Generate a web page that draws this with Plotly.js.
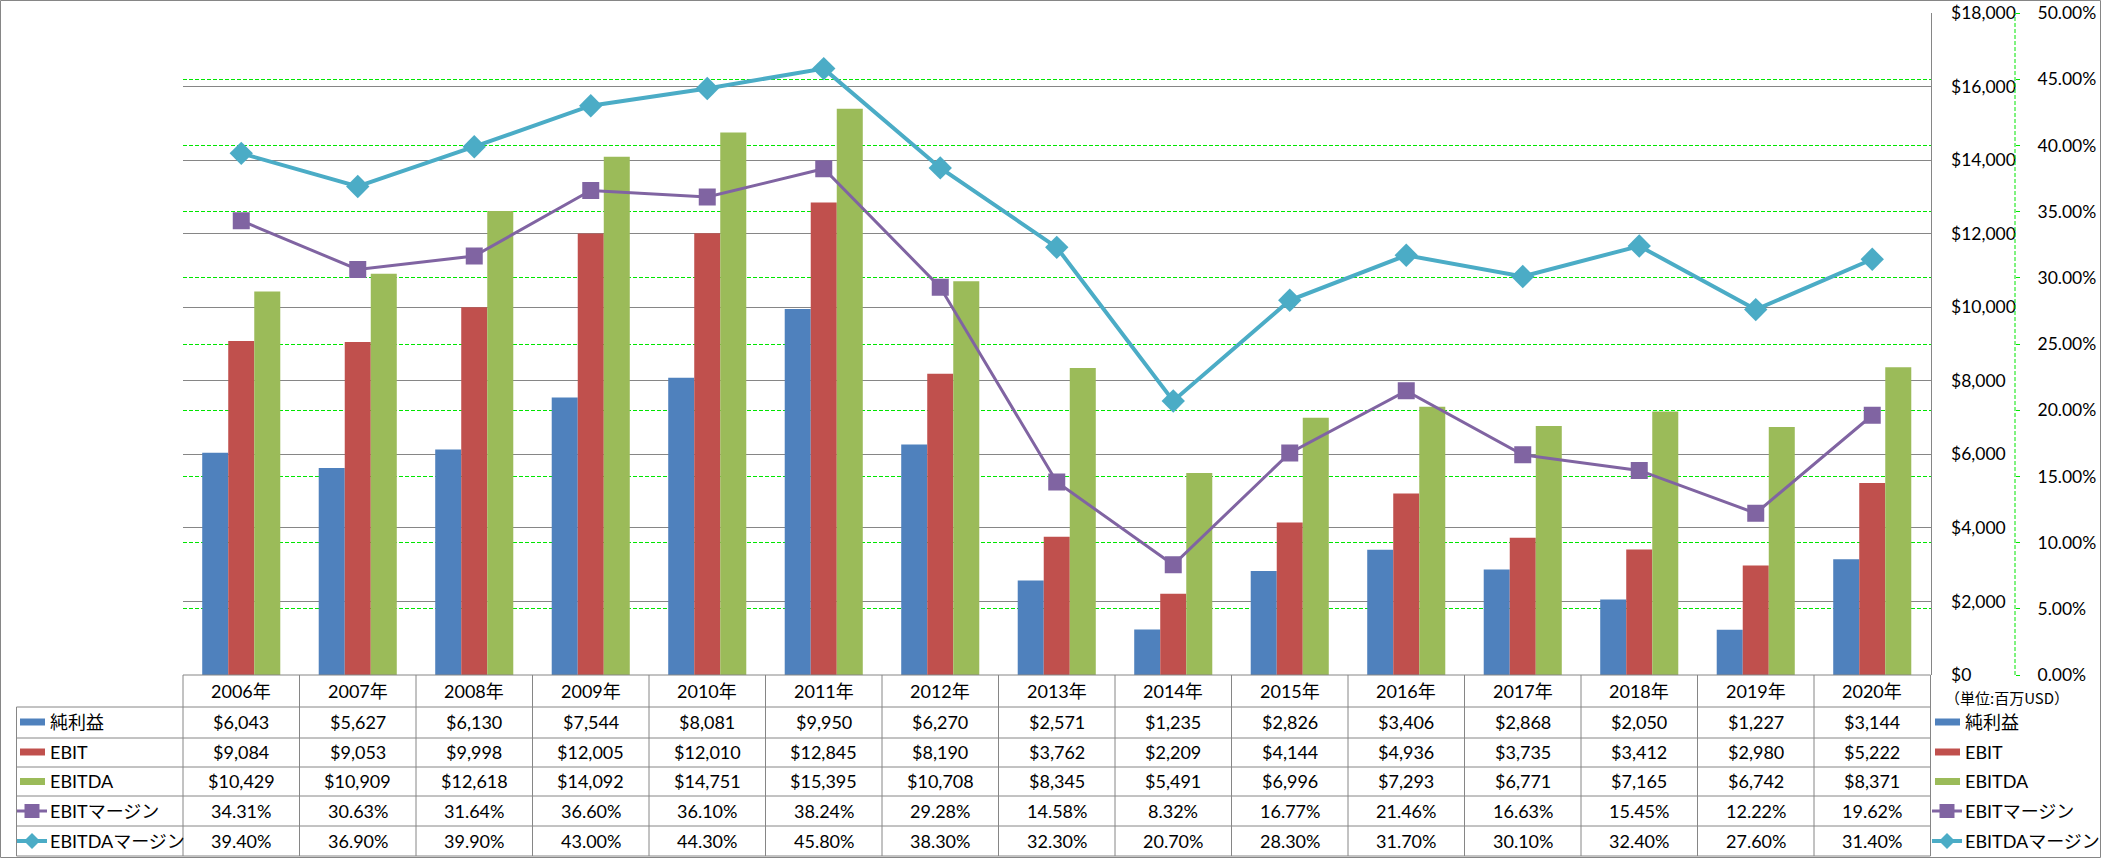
<!DOCTYPE html>
<html>
<head>
<meta charset="utf-8">
<script src="https://cdn.plot.ly/plotly-3.0.1.min.js"></script>
<style>
html,body{margin:0;padding:0;background:#fff;}
#chart{width:2101px;height:858px;}
</style>
</head>
<body>
<div id="chart"></div>
<script>
// ---- data ----
const years = ['2006年','2007年','2008年','2009年','2010年','2011年','2012年','2013年','2014年','2015年','2016年','2017年','2018年','2019年','2020年'];
const netIncome = [6043,5627,6130,7544,8081,9950,6270,2571,1235,2826,3406,2868,2050,1227,3144];
const ebit = [9084,9053,9998,12005,12010,12845,8190,3762,2209,4144,4936,3735,3412,2980,5222];
const ebitda = [10429,10909,12618,14092,14751,15395,10708,8345,5491,6996,7293,6771,7165,6742,8371];
const ebitMargin = [34.31,30.63,31.64,36.60,36.10,38.24,29.28,14.58,8.32,16.77,21.46,16.63,15.45,12.22,19.62];
const ebitdaMargin = [39.40,36.90,39.90,43.00,44.30,45.80,38.30,32.30,20.70,28.30,31.70,30.10,32.40,27.60,31.40];
const seriesNames = ['純利益','EBIT','EBITDA','EBITマージン','EBITDAマージン'];
const unitLabel = '（単位:百万USD）';

// ---- styling ----
const C_BLUE='#4F81BD', C_RED='#C0504D', C_GREEN='#9BBB59', C_PURPLE='#8064A2', C_TEAL='#4BACC6';
const GRAY='#868686', LGREEN='#00E600';
const FONT="Lato, 'Noto Sans CJK JP', sans-serif";

// geometry (pixels)
const W=2101, H=858, L=183, R=2015, T=13, B=675;
const PW=R-L, PH=B-T;
const PLOT_R=1930.5;
const px = x => (x-L)/PW;
const py = y => (B-y)/PH;

const rowCenters=[691,722,752,781.5,811,841];
const rowLines=[707,738,767,796,826,856];

// ---- traces ----
const traces = [
  {type:'bar', name:seriesNames[0], x:years, y:netIncome, marker:{color:C_BLUE}, yaxis:'y'},
  {type:'bar', name:seriesNames[1], x:years, y:ebit, marker:{color:C_RED}, yaxis:'y'},
  {type:'bar', name:seriesNames[2], x:years, y:ebitda, marker:{color:C_GREEN}, yaxis:'y'},
  {type:'scatter', mode:'lines+markers', name:seriesNames[3], x:years, y:ebitMargin.map(v=>v/100), yaxis:'y2',
   line:{color:C_PURPLE,width:3}, marker:{symbol:'square',size:15,color:C_PURPLE,line:{color:C_PURPLE,width:2}}},
  {type:'scatter', mode:'lines+markers', name:seriesNames[4], x:years, y:ebitdaMargin.map(v=>v/100), yaxis:'y2',
   line:{color:C_TEAL,width:4}, marker:{symbol:'diamond',size:18,color:C_TEAL}}
];

// ---- table / legend shapes & annotations ----
const shapes=[];
const annotations=[];
const gl = {color:GRAY,width:1};

// outer border
shapes.push({type:'rect',xref:'paper',yref:'paper',x0:px(0.5),x1:px(2100.5),y0:py(0.5),y1:py(857.5),line:{color:GRAY,width:1}});
// dashed secondary axis line
shapes.push({type:'line',xref:'paper',yref:'paper',x0:1,x1:1,y0:0,y1:1,line:{color:LGREEN,width:1,dash:'4px,2px'}});
// table horizontal lines
shapes.push({type:'line',xref:'paper',yref:'paper',x0:px(L),x1:px(PLOT_R),y0:py(675),y1:py(675),line:gl});
rowLines.forEach(y=>shapes.push({type:'line',xref:'paper',yref:'paper',x0:px(16.5),x1:px(PLOT_R),y0:py(y),y1:py(y),line:gl}));
// table vertical lines
shapes.push({type:'line',xref:'paper',yref:'paper',x0:px(16.5),x1:px(16.5),y0:py(707),y1:py(856),line:gl});
for(let k=0;k<=years.length;k++){
  const x = L + k*(PLOT_R-L)/years.length;
  shapes.push({type:'line',xref:'paper',yref:'paper',x0:px(x),x1:px(x),y0:py(675),y1:py(856),line:gl});
}

const cellFont={family:FONT,size:18,color:'#000'};
// header
years.forEach(yr=>annotations.push({xref:'x',yref:'paper',x:yr,y:py(rowCenters[0]),text:yr,showarrow:false,font:cellFont,xanchor:'center',yanchor:'middle'}));
// values
const fmtD = v => '$'+v.toLocaleString('en-US');
const fmtP = v => v.toFixed(2)+'%';
const rows=[netIncome.map(fmtD),ebit.map(fmtD),ebitda.map(fmtD),ebitMargin.map(fmtP),ebitdaMargin.map(fmtP)];
rows.forEach((r,i)=>r.forEach((t,j)=>annotations.push({xref:'x',yref:'paper',x:years[j],y:py(rowCenters[i+1]),text:t,showarrow:false,font:cellFont,xanchor:'center',yanchor:'middle'})));

// legend symbols
const symDefs=[{k:'bar',c:C_BLUE},{k:'bar',c:C_RED},{k:'bar',c:C_GREEN},{k:'sq',c:C_PURPLE,w:3},{k:'dia',c:C_TEAL,w:4}];
function addLegend(x0){
  symDefs.forEach((s,i)=>{
    const yc=rowCenters[i+1];
    if(s.k==='bar'){
      shapes.push({type:'rect',xref:'paper',yref:'paper',x0:px(x0+3),x1:px(x0+28),y0:py(yc-3.5),y1:py(yc+3.5),fillcolor:s.c,line:{width:0}});
    } else {
      shapes.push({type:'line',xref:'paper',yref:'paper',x0:px(x0),x1:px(x0+30),y0:py(yc),y1:py(yc),line:{color:s.c,width:s.w}});
      const cx=x0+15;
      if(s.k==='sq'){
        shapes.push({type:'rect',xref:'paper',yref:'paper',x0:px(cx-7.5),x1:px(cx+7.5),y0:py(yc-7),y1:py(yc+7),fillcolor:s.c,line:{width:0}});
      } else {
        const h=8;
        shapes.push({type:'path',xref:'paper',yref:'paper',
          path:`M ${px(cx-h)},${py(yc)} L ${px(cx)},${py(yc-h)} L ${px(cx+h)},${py(yc)} L ${px(cx)},${py(yc+h)} Z`,
          fillcolor:s.c,line:{width:0}});
      }
    }
    annotations.push({xref:'paper',yref:'paper',x:px(x0+31),y:py(yc),text:seriesNames[i],showarrow:false,font:cellFont,xanchor:'left',yanchor:'middle'});
  });
}
addLegend(17);
addLegend(1932);

annotations.push({xref:'paper',yref:'paper',x:px(1943),y:py(697),text:unitLabel,showarrow:false,
  font:{family:"'Noto Sans CJK JP', sans-serif",size:15,color:'#000'},xanchor:'left',yanchor:'middle'});

// ---- layout ----
const layout = {
  width:W, height:H,
  margin:{l:L, r:W-R, t:T, b:H-B, pad:0},
  paper_bgcolor:'#fff', plot_bgcolor:'#fff',
  showlegend:false,
  barmode:'group', bargap:0.33, bargroupgap:0,
  font:{family:FONT,size:17.5,color:'#000'},
  xaxis:{type:'category', domain:[0,(PLOT_R-L)/PW], range:[-0.5, years.length-0.5], autorange:false,
    showticklabels:false, ticks:'', showgrid:false, zeroline:false, showline:false, fixedrange:true},
  yaxis:{side:'right', anchor:'x', range:[0,18000], dtick:2000, tickprefix:'$', tickformat:',d',
    showline:true, linecolor:GRAY, linewidth:1, gridcolor:GRAY, gridwidth:1, zeroline:false, ticks:'',
    ticklabelstandoff:16, tickfont:{family:FONT,size:17.5,color:'#000'}},
  yaxis2:{overlaying:'y', side:'right', anchor:'free', position:1, range:[0,0.5], dtick:0.05, tickformat:'.2%',
    showline:false, gridcolor:LGREEN, gridwidth:1, griddash:'4px,2px', zeroline:false,
    ticks:'outside', ticklen:4, tickcolor:LGREEN, tickwidth:1, ticklabelstandoff:14,
    tickfont:{family:FONT,size:17.5,color:'#000'}},
  shapes:shapes,
  annotations:annotations
};

Plotly.newPlot('chart', traces, layout, {staticPlot:true, displayModeBar:false});
</script>
</body>
</html>
